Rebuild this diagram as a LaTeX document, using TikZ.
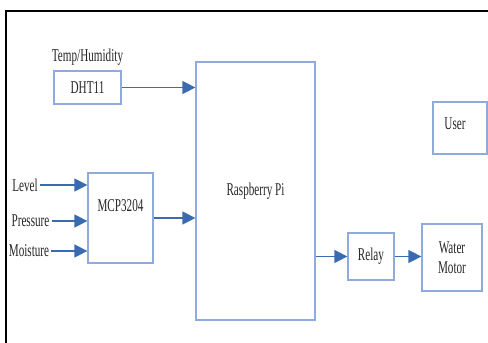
\documentclass[tikz,border=0pt]{standalone}
\usepackage{fontspec}
\setmainfont{Liberation Serif}[FakeStretch=0.62]
\usepackage{tikz}
\usetikzlibrary{positioning,arrows.meta}

\definecolor{boxblue}{HTML}{8FAADC}
\definecolor{arrowblue}{HTML}{3A6BB0}
\definecolor{txtgray}{HTML}{262626}

\begin{document}
\begin{tikzpicture}[
  x=1pt,y=-1pt,
  every node/.style={font=\fontsize{18}{20}\selectfont,text=txtgray},
  block/.style={draw=boxblue,line width=1.2pt,rectangle,inner sep=0pt},
  sig/.style={inner sep=2pt},
  every edge/.style={draw=arrowblue,line width=1.2pt,-{Triangle[length=13pt,width=13pt]}},
]
  \useasboundingbox (0,0) rectangle (488,343);

  % Frame
  \draw[line width=2.5pt] (6,343) -- (6,11) -- (488,11);

  % Controller
  \node[block,minimum width=119pt,minimum height=258pt] (rpi) at (255.5,191) {Raspberry Pi};

  % Sensors
  \node[block,minimum width=67pt,minimum height=33pt] (dht) at (87.5,87.5) {DHT11};
  \node[above=1pt of dht] (temp) {Temp/Humidity};
  \node[block,minimum width=65pt,minimum height=90pt] (mcp) at (120.5,218) {};
  \node (mcptext) at (120.5,206) {MCP3204};
  \node[sig] (level) at (25,185) {Level};
  \node[sig] (pressure) at (30.5,221) {Pressure};
  \node[sig] (moisture) at (29,251) {Moisture};

  % Actuators
  \node[block,minimum width=46pt,minimum height=47pt] (relay) at (371,256.5) {Relay};
  \node[block,minimum width=60pt,minimum height=67pt,align=center] (motor) at (452,257.5) {Water\\Motor};
  \node[block,minimum width=54pt,minimum height=52pt] (user) at (460,128) {};
  \node (usertext) at (455,124) {User};

  % Edges: inputs
  \path (dht.east) edge (dht.east -| rpi.west);
  \path (mcp.east) edge (mcp.east -| rpi.west);
  \path (level.east) edge (level.east -| mcp.west);
  \path (pressure.east) edge (pressure.east -| mcp.west);
  \path (moisture.east) edge (moisture.east -| mcp.west);

  % Edges: outputs
  \path (relay.west -| rpi.east) edge (relay.west);
  \path (relay.east) edge (relay.east -| motor.west);
\end{tikzpicture}
\end{document}
